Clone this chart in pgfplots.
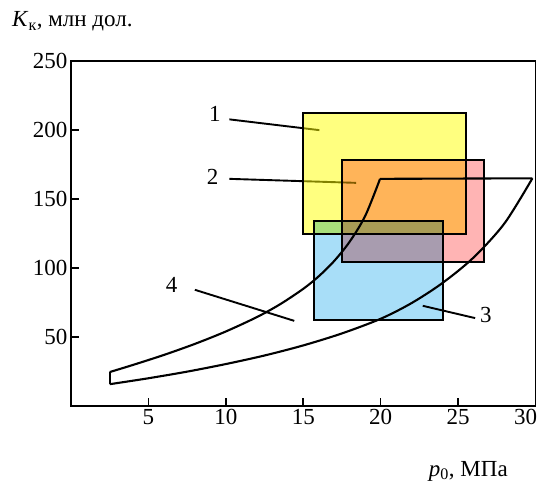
\documentclass[border=0pt]{standalone}
\usepackage{fontspec}
\setmainfont{Liberation Serif}
\usepackage{pgfplots}
\pgfplotsset{compat=1.18}
\newcommand\fs{\fontsize{23bp}{27bp}\selectfont}
\definecolor{yel}{RGB}{255,255,0}
\definecolor{pnk}{RGB}{255,180,180}
\definecolor{blu}{RGB}{168,222,248}
\begin{document}
\begin{tikzpicture}
\useasboundingbox (-71bp,-76bp) rectangle (471bp,406bp);
\begin{axis}[at={(0,0)}, anchor=south west, scale only axis,
  width=464.5bp, height=345bp,
  xmin=0, xmax=30, ymin=0, ymax=250,
  xtick={5,10,...,25}, ytick={50,100,...,250},
  extra x ticks={30},
  extra x tick style={xticklabel style={xshift=-10bp}},
  tick align=inside, xtick pos=bottom, ytick pos=left,
  major tick length=8bp,
  axis line style={line width=1.8bp},
  every tick/.style={line width=1.6bp, black},
  ticklabel style={font=\fs},
  /pgf/number format/assume math mode=true,
  clip=false]
% callout lines (under the boxes)
\addplot[line width=1.9bp] coordinates {(10.23,207.7) (16.04,199.9)};
\addplot[line width=1.9bp] coordinates {(10.23,164.6) (18.41,161.7)};
\addplot[line width=1.9bp] coordinates {(22.72,72.6) (26.1,63.7)};
\addplot[line width=1.9bp] coordinates {(8.0,84.2) (14.42,61.7)};
% rectangles
\addplot[fill=yel, fill opacity=0.5, draw=black, line width=2bp] coordinates {(15,125) (25.5,125) (25.5,212) (15,212)} -- cycle;
\addplot[fill=pnk, draw=black, line width=2bp, blend mode=multiply] coordinates {(17.5,104) (26.7,104) (26.7,178) (17.5,178)} -- cycle;
\addplot[fill=blu, draw=black, line width=2bp, blend mode=multiply] coordinates {(15.7,62) (24,62) (24,134) (15.7,134)} -- cycle;
% region 4
\addplot[smooth, line width=2.1bp] coordinates {(2.5,24.6) (4,29.75) (6,37.0) (8,45.0) (10,54.0) (12,64.4) (13.5,73.7) (15,84.9) (16,94.0) (17,105.1) (18,119.1) (19,137.7) (19.96,164.6)};
\addplot[line width=2.1bp] coordinates {(19.96,164.6) (29.8,165)};
\addplot[smooth, line width=2.1bp] coordinates {(29.8,165) (28,132.4) (26,107.6) (24,89.2) (22,74.6) (20,63.2) (17.5,52.6) (15,43.9) (12.5,36.6) (10,30.4) (7.5,24.9) (5,20.1) (2.5,15.8)};
\addplot[line width=2.1bp] coordinates {(2.5,15.8) (2.5,24.6)};
\node[font=\fs] at (axis cs:9.3,211.3) {1};
\node[font=\fs] at (axis cs:9.15,166) {2};
\node[font=\fs] at (axis cs:26.8,66.1) {3};
\node[font=\fs] at (axis cs:6.5,87.9) {4};
\node[font=\fs, anchor=base west, inner sep=0pt] at (axis cs:-3.81,275) {\textit{K}\textsubscript{к}, млн дол.};
\node[font=\fs, anchor=base east, inner sep=0pt] at (axis cs:28.22,-50.8) {\textit{p}\textsubscript{0}, МПа};
\end{axis}
\end{tikzpicture}
\end{document}
